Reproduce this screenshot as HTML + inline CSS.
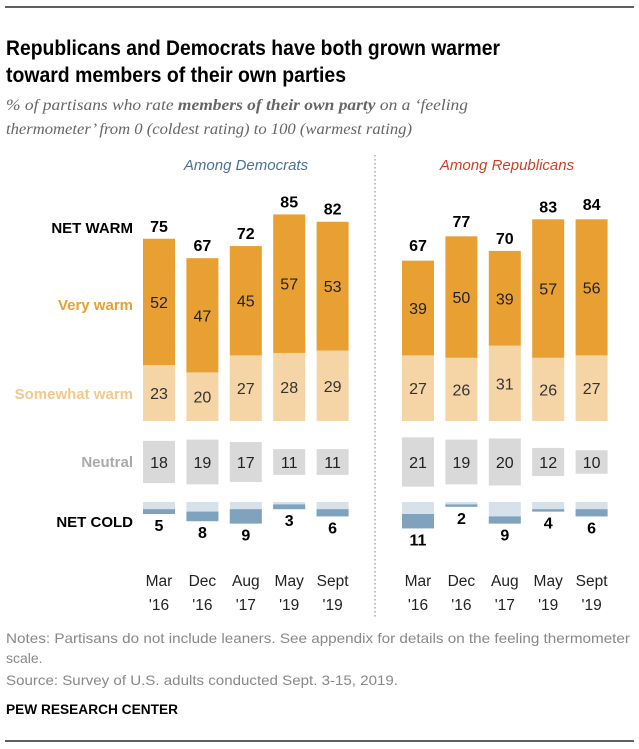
<!DOCTYPE html>
<html><head><meta charset="utf-8"><style>
html,body{margin:0;padding:0;background:#fff;}
svg{display:block;font-family:"Liberation Sans",sans-serif;}
</style></head><body>
<svg id="chart" width="639" height="749" viewBox="0 0 639 749">
<line x1="5" y1="7" x2="634" y2="7" stroke="#000" stroke-width="1.2"/>
<text x="6" y="55" font-size="21.5" font-weight="bold" textLength="494" lengthAdjust="spacingAndGlyphs">Republicans and Democrats have both grown warmer</text>
<text x="6" y="82" font-size="21.5" font-weight="bold" textLength="340" lengthAdjust="spacingAndGlyphs">toward members of their own parties</text>
<text x="6" y="110" font-size="16" font-style="italic" fill="#666" font-family="Liberation Serif, serif" textLength="462" lengthAdjust="spacingAndGlyphs">% of partisans who rate <tspan font-weight="bold">members of their own party</tspan> on a ‘feeling</text>
<text x="6" y="134" font-size="16" font-style="italic" fill="#666" font-family="Liberation Serif, serif" textLength="406" lengthAdjust="spacingAndGlyphs">thermometer’ from 0 (coldest rating) to 100 (warmest rating)</text>
<text x="246" y="170" font-size="15" font-style="italic" fill="#4a7194" text-anchor="middle">Among Democrats</text>
<text x="507" y="170" font-size="15" font-style="italic" fill="#c9412b" text-anchor="middle">Among Republicans</text>
<line x1="375" y1="155" x2="375" y2="618" stroke="#999" stroke-width="1.2" stroke-dasharray="1.5,2.5"/>
<g font-weight="bold" font-size="15" text-anchor="end">
<text x="133" y="233" fill="#000">NET WARM</text>
<text x="133" y="310" fill="#e8a033">Very warm</text>
<text x="133" y="399" fill="#f2c98a">Somewhat warm</text>
<text x="133" y="467" fill="#aaa">Neutral</text>
<text x="133" y="527" fill="#000">NET COLD</text>
</g>
<g id="marks"></g>
<g font-size="14" fill="#888">
<text x="6" y="643" textLength="624" lengthAdjust="spacingAndGlyphs">Notes: Partisans do not include leaners. See appendix for details on the feeling thermometer</text>
<text x="6" y="663">scale.</text>
<text x="6" y="685" textLength="392" lengthAdjust="spacingAndGlyphs">Source: Survey of U.S. adults conducted Sept. 3-15, 2019.</text>
</g>
<text x="6" y="714" font-size="13.5" font-weight="bold" textLength="172" lengthAdjust="spacingAndGlyphs">PEW RESEARCH CENTER</text>
<line x1="5" y1="741" x2="634" y2="741" stroke="#000" stroke-width="1.2"/>
</svg>
<script>
const dates1 = ["Mar","Dec","Aug","May","Sept"];
const dates2 = ["'16","'16","'17","'19","'19"];
const demVeryWarm = [52,47,45,57,53];
const demSomewhatWarm = [23,20,27,28,29];
const demNetWarm = [75,67,72,85,82];
const demNeutral = [18,19,17,11,11];
const demNetCold = [5,8,9,3,6];
const demVeryCold = [2,4,6,2,3];
const repVeryWarm = [39,50,39,57,56];
const repSomewhatWarm = [27,26,31,26,27];
const repNetWarm = [67,77,70,83,84];
const repNeutral = [21,19,20,12,10];
const repNetCold = [11,2,9,4,6];
const repVeryCold = [6,1,3,1,3];

const NS="http://www.w3.org/2000/svg";
const g=document.getElementById('marks');
const warmBase=421, warmK=2.43, neutralMid=462, neutralK=2.35, coldTop=502, coldK=2.4;
const barW=32, step=43.4;
function xPos(x0,i){return x0+i*step;}
function yWarm(v){return warmBase - v*warmK;}
function mk(tag,attrs){const e=document.createElementNS(NS,tag);for(const k in attrs)e.setAttribute(k,attrs[k]);g.appendChild(e);return e;}
function txt(x,y,s,opts){const e=mk('text',Object.assign({x:x,y:y,'text-anchor':'middle','font-size':16},opts||{}));e.textContent=s;return e;}

function panel(x0,party,vw,sw,nw,neu,nc,vc){
  for(let i=0;i<5;i++){
    const x=xPos(x0,i), cx=x+barW/2;
    const swTop=yWarm(sw[i]), vwTop=yWarm(sw[i]+vw[i]);
    let r=mk('rect',{x:x,y:swTop,width:barW,height:warmBase-swTop,fill:'#f5d4a6'});
    
    
    r=mk('rect',{x:x,y:vwTop,width:barW,height:swTop-vwTop,fill:'#e8a033'});
    
    
    let t=txt(cx,(swTop+warmBase)/2+6,String(sw[i]),{fill:'#333'});
    
    
    t=txt(cx,(vwTop+swTop)/2+6,String(vw[i]),{fill:'#222'});
    
    
    t=txt(cx,yWarm(nw[i])-7,String(nw[i]),{'font-weight':'bold','font-size':16});
    
    
    const nh=neu[i]*neutralK;
    r=mk('rect',{x:x,y:neutralMid-nh/2,width:barW,height:nh,fill:'#d9d9d9'});
    
    
    t=txt(cx,neutralMid+6,String(neu[i]),{fill:'#222'});
    
    
    const ch=nc[i]*coldK, dh=vc[i]*coldK;
    r=mk('rect',{x:x,y:coldTop,width:barW,height:ch,fill:'#d6e1ea'});
    
    
    r=mk('rect',{x:x,y:coldTop+ch-dh,width:barW,height:dh,fill:'#7fa3bd'});
    
    
    t=txt(cx,coldTop+ch+17,String(nc[i]),{'font-weight':'bold'});
    
    
    t=txt(cx,586,dates1[i],{'font-size':15.5,fill:'#222'});
    
    
    t=txt(cx,610,dates2[i],{'font-size':15.5,fill:'#222'});
    
    
  }
}
panel(143,'dem',demVeryWarm,demSomewhatWarm,demNetWarm,demNeutral,demNetCold,demVeryCold);
panel(402,'rep',repVeryWarm,repSomewhatWarm,repNetWarm,repNeutral,repNetCold,repVeryCold);
</script>
</body></html>
